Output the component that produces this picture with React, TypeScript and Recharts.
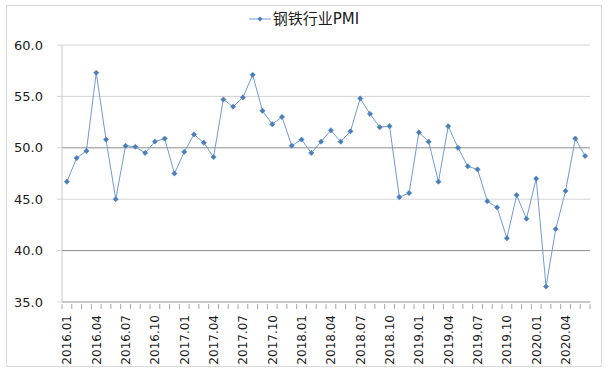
import React from "react";
import { LineChart, Line, XAxis, YAxis, ReferenceLine } from "recharts";

// 钢铁行业PMI, monthly, 2016.01 - 2020.06
const MONTHS = [
  "2016.01", "2016.02", "2016.03", "2016.04", "2016.05", "2016.06",
  "2016.07", "2016.08", "2016.09", "2016.10", "2016.11", "2016.12",
  "2017.01", "2017.02", "2017.03", "2017.04", "2017.05", "2017.06",
  "2017.07", "2017.08", "2017.09", "2017.10", "2017.11", "2017.12",
  "2018.01", "2018.02", "2018.03", "2018.04", "2018.05", "2018.06",
  "2018.07", "2018.08", "2018.09", "2018.10", "2018.11", "2018.12",
  "2019.01", "2019.02", "2019.03", "2019.04", "2019.05", "2019.06",
  "2019.07", "2019.08", "2019.09", "2019.10", "2019.11", "2019.12",
  "2020.01", "2020.02", "2020.03", "2020.04", "2020.05", "2020.06",
];

const PMI = [
  46.7, 49.0, 49.7, 57.3, 50.8, 45.0,
  50.2, 50.1, 49.5, 50.6, 50.9, 47.5,
  49.6, 51.3, 50.5, 49.1, 54.7, 54.0,
  54.9, 57.1, 53.6, 52.3, 53.0, 50.2,
  50.8, 49.5, 50.6, 51.7, 50.6, 51.6,
  54.8, 53.3, 52.0, 52.1, 45.2, 45.6,
  51.5, 50.6, 46.7, 52.1, 50.0, 48.2,
  47.9, 44.8, 44.2, 41.2, 45.4, 43.1,
  47.0, 36.5, 42.1, 45.8, 50.9, 49.2,
];

const Y_TICKS = [35, 40, 45, 50, 55, 60];
// the 50 and 40 lines are drawn darker in the original
const DARK_LINES = [40, 50];

const data = MONTHS.map((m, i) => ({ month: m, pmi: PMI[i] }));

const WIDTH = 608;
const HEIGHT = 375;
const MARGIN = { top: 45, right: 18, bottom: 0, left: 0 };
const Y_WIDTH = 62;
const BAND = (WIDTH - MARGIN.left - MARGIN.right - Y_WIDTH) / MONTHS.length;

const FONT = '"DejaVu Sans", "Noto Sans CJK SC", sans-serif';
const LINE_COLOR = "#6f9bd3";
const MARK_COLOR = "#4a7ebb";

function Diamond(props: any) {
  const { cx, cy, index } = props;
  if (cx == null || cy == null) return null;
  const r = 2.6;
  return (
    <path
      key={`d-${index}`}
      d={`M${cx},${cy - r}L${cx + r},${cy}L${cx},${cy + r}L${cx - r},${cy}Z`}
      fill={MARK_COLOR}
      stroke={MARK_COLOR}
      strokeWidth={0.6}
    />
  );
}

function MonthTick(props: any) {
  const { x, y, payload, index } = props;
  const left = x - BAND / 2;
  const isLast = index === MONTHS.length - 1;
  return (
    <g>
      <line x1={left} x2={left} y1={y} y2={y + 5} stroke="#a6a6a6" />
      {isLast && (
        <line x1={x + BAND / 2} x2={x + BAND / 2} y1={y} y2={y + 5} stroke="#a6a6a6" />
      )}
      {index % 3 === 0 && (
        <text
          x={x}
          y={y + 11}
          transform={`rotate(-90, ${x}, ${y + 11})`}
          textAnchor="end"
          dy="0.36em"
          fontSize={12}
          fontFamily={FONT}
          fill="#1a1a1a"
        >
          {payload.value}
        </text>
      )}
    </g>
  );
}

export default function App() {
  return (
    <div
      style={{
        position: "absolute",
        left: 0,
        top: 0,
        width: WIDTH,
        height: HEIGHT,
        background: "#fff",
        fontFamily: FONT,
      }}
    >
      <div
        style={{
          position: "absolute",
          left: 6,
          top: 5,
          width: 594,
          height: 360,
          border: "1px solid #d9d9d9",
        }}
      />
      <div
        style={{
          position: "absolute",
          left: 0,
          top: 8,
          width: WIDTH,
          textAlign: "center",
          fontSize: 15,
          lineHeight: "20px",
          color: "#1a1a1a",
        }}
      >
        <svg width={22} height={10} style={{ marginRight: 2, verticalAlign: "middle" }}>
          <line x1={0} x2={22} y1={5} y2={5} stroke={LINE_COLOR} strokeWidth={1} />
          <path d="M11,2.4L13.6,5L11,7.6L8.4,5Z" fill={MARK_COLOR} />
        </svg>
        <span style={{ verticalAlign: "middle" }}>钢铁行业PMI</span>
      </div>
      <LineChart width={WIDTH} height={HEIGHT} data={data} margin={MARGIN} style={{ position: "absolute", left: 0, top: 0 }}>
        {Y_TICKS.map((v) => (
          <ReferenceLine
            key={v}
            y={v}
            stroke={DARK_LINES.includes(v) ? "#8c8c8c" : "#d4d4d4"}
            strokeWidth={1}
            ifOverflow="extendDomain"
          />
        ))}
        <XAxis
          dataKey="month"
          interval={0}
          height={73}
          padding={{ left: BAND / 2, right: BAND / 2 }}
          tickSize={0}
          tickLine={false}
          axisLine={{ stroke: "#a6a6a6" }}
          tick={<MonthTick />}
        />
        <YAxis
          domain={[35, 60]}
          ticks={Y_TICKS}
          width={Y_WIDTH}
          tickSize={5}
          tickMargin={14}
          tickLine={{ stroke: "#d4d4d4" }}
          axisLine={{ stroke: "#c8c8c8" }}
          tickFormatter={(v: number) => v.toFixed(1)}
          tick={{ fontSize: 13, fontFamily: FONT, fill: "#1a1a1a" }}
        />
        <Line
          type="linear"
          dataKey="pmi"
          stroke={LINE_COLOR}
          strokeWidth={1}
          dot={<Diamond />}
          activeDot={false}
          isAnimationActive={false}
        />
      </LineChart>
    </div>
  );
}
